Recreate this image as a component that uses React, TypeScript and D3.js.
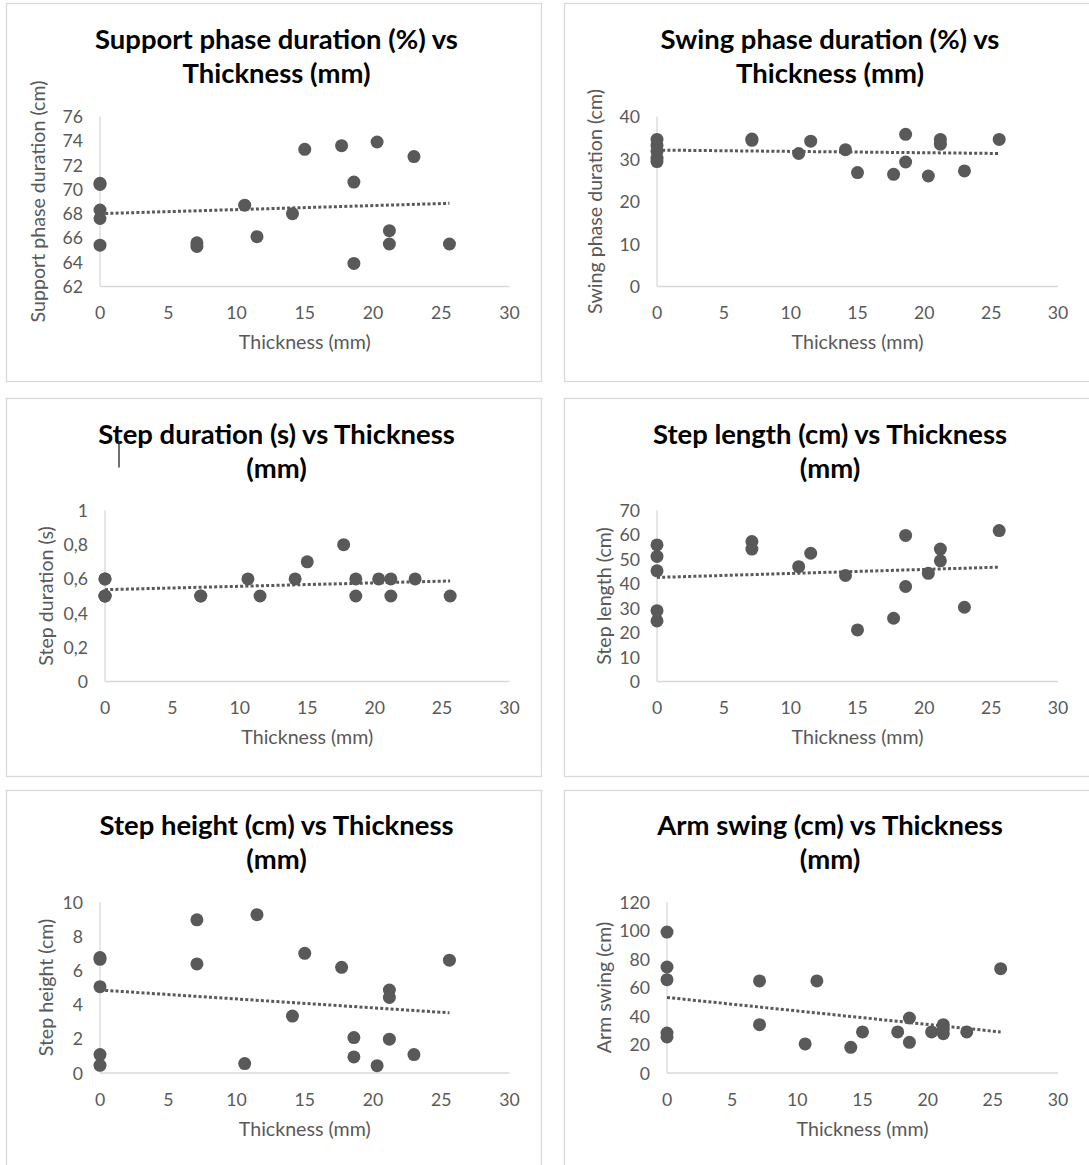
import React, { useMemo } from "react";
import * as d3 from "d3";

// ---------- DATA ----------
const xTicks = [0, 5, 10, 15, 20, 25, 30];

const supportX = [0, 0, 0, 0, 0, 7.1, 7.1, 10.6, 11.5, 14.1, 15.0, 17.7, 18.6, 18.6, 20.3, 21.2, 21.2, 23.0, 25.6];
const supportY = [70.5, 70.4, 68.3, 67.6, 65.4, 65.6, 65.3, 68.7, 66.1, 68.0, 73.3, 73.6, 70.6, 63.9, 73.9, 66.6, 65.5, 72.7, 65.5];
const supportTrend = [68.0, 68.85];
const supportTicks = [62, 64, 66, 68, 70, 72, 74, 76];

const swingX = [0, 0, 0, 0, 0, 7.1, 7.1, 10.6, 11.5, 14.1, 15.0, 17.7, 18.6, 18.6, 20.3, 21.2, 21.2, 23.0, 25.6];
const swingY = [34.6, 33.2, 31.8, 30.2, 29.4, 34.7, 34.4, 31.3, 34.2, 32.2, 26.8, 26.4, 35.8, 29.3, 26.0, 34.6, 33.5, 27.2, 34.6];
const swingTrend = [32.1, 31.3];
const swingTicks = [0, 10, 20, 30, 40];

const durX = [0, 0, 0, 0, 0, 7.1, 7.1, 10.6, 11.5, 14.1, 15.0, 17.7, 18.6, 18.6, 20.3, 21.2, 21.2, 23.0, 25.6];
const durY = [0.6, 0.6, 0.5, 0.5, 0.5, 0.5, 0.5, 0.6, 0.5, 0.6, 0.7, 0.8, 0.6, 0.5, 0.6, 0.6, 0.5, 0.6, 0.5];
const durTrend = [0.537, 0.588];
const durTicks = [0, 0.2, 0.4, 0.6, 0.8, 1];

const lenX = [0, 0, 0, 0, 0, 7.1, 7.1, 10.6, 11.5, 14.1, 15.0, 17.7, 18.6, 18.6, 20.3, 21.2, 21.2, 23.0, 25.6];
const lenY = [55.9, 51.2, 45.3, 29.0, 24.8, 57.3, 54.2, 47.0, 52.5, 43.4, 21.1, 25.9, 59.8, 38.9, 44.3, 54.2, 49.4, 30.4, 61.8];
const lenTrend = [42.6, 46.8];
const lenTicks = [0, 10, 20, 30, 40, 50, 60, 70];

const heightX = [0, 0, 0, 0, 0, 7.1, 7.1, 10.6, 11.5, 14.1, 15.0, 17.7, 18.6, 18.6, 20.3, 21.2, 21.2, 21.2, 23.0, 25.6];
const heightY = [6.75, 6.65, 5.05, 1.08, 0.45, 8.96, 6.38, 0.55, 9.26, 3.33, 7.0, 6.18, 2.07, 0.94, 0.43, 4.85, 4.42, 1.98, 1.08, 6.6];
const heightTrend = [4.85, 3.52];
const heightTicks = [0, 2, 4, 6, 8, 10];

const armX = [0, 0, 0, 0, 0, 7.1, 7.1, 10.6, 11.5, 14.1, 15.0, 17.7, 18.6, 18.6, 20.3, 21.2, 21.2, 21.2, 23.0, 25.6];
const armY = [98.9, 74.4, 65.5, 28.0, 25.3, 64.6, 33.9, 20.4, 64.6, 18.0, 28.8, 28.8, 38.6, 21.5, 28.8, 33.9, 30.9, 27.6, 28.8, 73.2];
const armTrend = [53.0, 28.8];
const armTicks = [0, 20, 40, 60, 80, 100, 120];

const trendXRange = [0, 25.6];

const titles1 = ["Support phase duration (%) vs", "Swing phase duration (%) vs", "Step duration (s) vs Thickness", "Step length (cm) vs Thickness", "Step height (cm) vs Thickness", "Arm swing (cm) vs Thickness"];
const titles2 = ["Thickness (mm)", "Thickness (mm)", "(mm)", "(mm)", "(mm)", "(mm)"];
const yTitles = ["Support phase duration (cm)", "Swing phase duration (cm)", "Step duration (s)", "Step length (cm)", "Step height (cm)", "Arm swing (cm)"];
const xTitle = "Thickness (mm)";

// ---------- LAYOUT ----------
const FONT = "Lato, 'Open Sans', sans-serif";
const GRAY = "#595959";
const AXIS = "#d9d9d9";

function measure(text: string, weight: number, size: number) {
  const c = document.createElement("canvas");
  const ctx = c.getContext("2d")!;
  ctx.font = `${weight} ${size}px Lato`;
  return ctx.measureText(text).width;
}

const layouts = [
  { px: 6.5, py: 3.5, pw: 535, ph: 378, L: 100, R: 509.5, T: 116.5, B: 286.5, tcx: 276.5, t1: 38, t2: 72.5, ytx: 37 },
  { px: 564.5, py: 3.5, pw: 530, ph: 378, L: 657, R: 1058, T: 116.5, B: 286.5, tcx: 830, t1: 38, t2: 72.5, ytx: 594.5 },
  { px: 6.5, py: 398.5, pw: 535, ph: 378, L: 105, R: 509.5, T: 510.5, B: 681.5, tcx: 276.5, t1: 433, t2: 467, ytx: 45.5 },
  { px: 564.5, py: 398.5, pw: 530, ph: 378, L: 657, R: 1058, T: 510.5, B: 681.5, tcx: 830, t1: 433, t2: 467, ytx: 603 },
  { px: 6.5, py: 790.5, pw: 535, ph: 400, L: 100, R: 509.5, T: 902, B: 1073, tcx: 276.5, t1: 824, t2: 858.5, ytx: 45.5 },
  { px: 564.5, py: 790.5, pw: 530, ph: 400, L: 667, R: 1058, T: 902, B: 1073, tcx: 830, t1: 824, t2: 858.5, ytx: 603 },
];

const series = [
  { xs: supportX, ys: supportY, trend: supportTrend, ticks: supportTicks },
  { xs: swingX, ys: swingY, trend: swingTrend, ticks: swingTicks },
  { xs: durX, ys: durY, trend: durTrend, ticks: durTicks },
  { xs: lenX, ys: lenY, trend: lenTrend, ticks: lenTicks },
  { xs: heightX, ys: heightY, trend: heightTrend, ticks: heightTicks },
  { xs: armX, ys: armY, trend: armTrend, ticks: armTicks },
];

const fmt = (v: number) => String(v).replace(".", ",");

function Chart({ i, sizes }: { i: number; sizes: { axis: number; tick: number; title: number } }) {
  const lay = layouts[i];
  const s = series[i];
  const x = d3.scaleLinear().domain([0, 30]).range([lay.L, lay.R]);
  const yd = d3.extent(s.ticks) as [number, number];
  const y = d3.scaleLinear().domain(yd).range([lay.B, lay.T]);
  const line = d3
    .line<number>()
    .x((_, k) => x(trendXRange[k]))
    .y((v) => y(v));
  const pts = s.xs.map((xv, k) => [xv, s.ys[k]]);
  return (
    <g>
      <rect x={lay.px} y={lay.py} width={lay.pw} height={lay.ph} fill="#fff" stroke={AXIS} strokeWidth={1.3} />
      <text x={lay.tcx} y={lay.t1} textAnchor="middle" dominantBaseline="central" fontFamily={FONT} fontWeight={700} fontSize={sizes.title} fill="#000">
        {titles1[i]}
      </text>
      <text x={lay.tcx} y={lay.t2} textAnchor="middle" dominantBaseline="central" fontFamily={FONT} fontWeight={700} fontSize={sizes.title} fill="#000">
        {titles2[i]}
      </text>
      <line x1={lay.L} x2={lay.L} y1={lay.T} y2={lay.B} stroke={AXIS} strokeWidth={1.3} />
      <line x1={lay.L} x2={lay.R} y1={lay.B} y2={lay.B} stroke={AXIS} strokeWidth={1.3} />
      {s.ticks.map((t) => (
        <text key={"y" + t} x={lay.L - 17} y={y(t)} textAnchor="end" dominantBaseline="central" fontFamily={FONT} fontSize={sizes.tick} fill={GRAY}>
          {fmt(t)}
        </text>
      ))}
      {xTicks.map((t) => (
        <text key={"x" + t} x={x(t)} y={lay.B + 26} textAnchor="middle" dominantBaseline="central" fontFamily={FONT} fontSize={sizes.tick} fill={GRAY}>
          {t}
        </text>
      ))}
      <text x={(lay.L + lay.R) / 2} y={lay.B + 55} textAnchor="middle" dominantBaseline="central" fontFamily={FONT} fontSize={sizes.axis} fill={GRAY}>
        {xTitle}
      </text>
      <text
        transform={`translate(${lay.ytx},${(lay.T + lay.B) / 2}) rotate(-90)`}
        textAnchor="middle"
        dominantBaseline="central"
        fontFamily={FONT}
        fontSize={sizes.axis}
        fill={GRAY}
      >
        {yTitles[i]}
      </text>
      {pts.map((p, k) => (
        <circle key={k} cx={x(p[0])} cy={y(p[1])} r={6.5} fill={GRAY} />
      ))}
      <path d={line(s.trend) || ""} fill="none" stroke={GRAY} strokeWidth={3} strokeDasharray="3 2.2" />
    </g>
  );
}

export default function App() {
  const sizes = useMemo(() => {
    const axis = (100 * 132) / measure("Thickness (mm)", 400, 100);
    const title = (100 * 188) / measure("Thickness (mm)", 700, 100);
    return { axis, tick: axis * 0.9, title };
  }, []);
  return (
    <svg width={1089} height={1165} style={{ position: "absolute", left: 0, top: 0, background: "#fff" }}>
      <rect x={0} y={0} width={1089} height={1165} fill="#fff" />
      {layouts.map((_, i) => (
        <Chart key={i} i={i} sizes={sizes} />
      ))}
      <line x1={119} x2={119} y1={441} y2={467.5} stroke="#333" strokeWidth={1.4} />
    </svg>
  );
}
